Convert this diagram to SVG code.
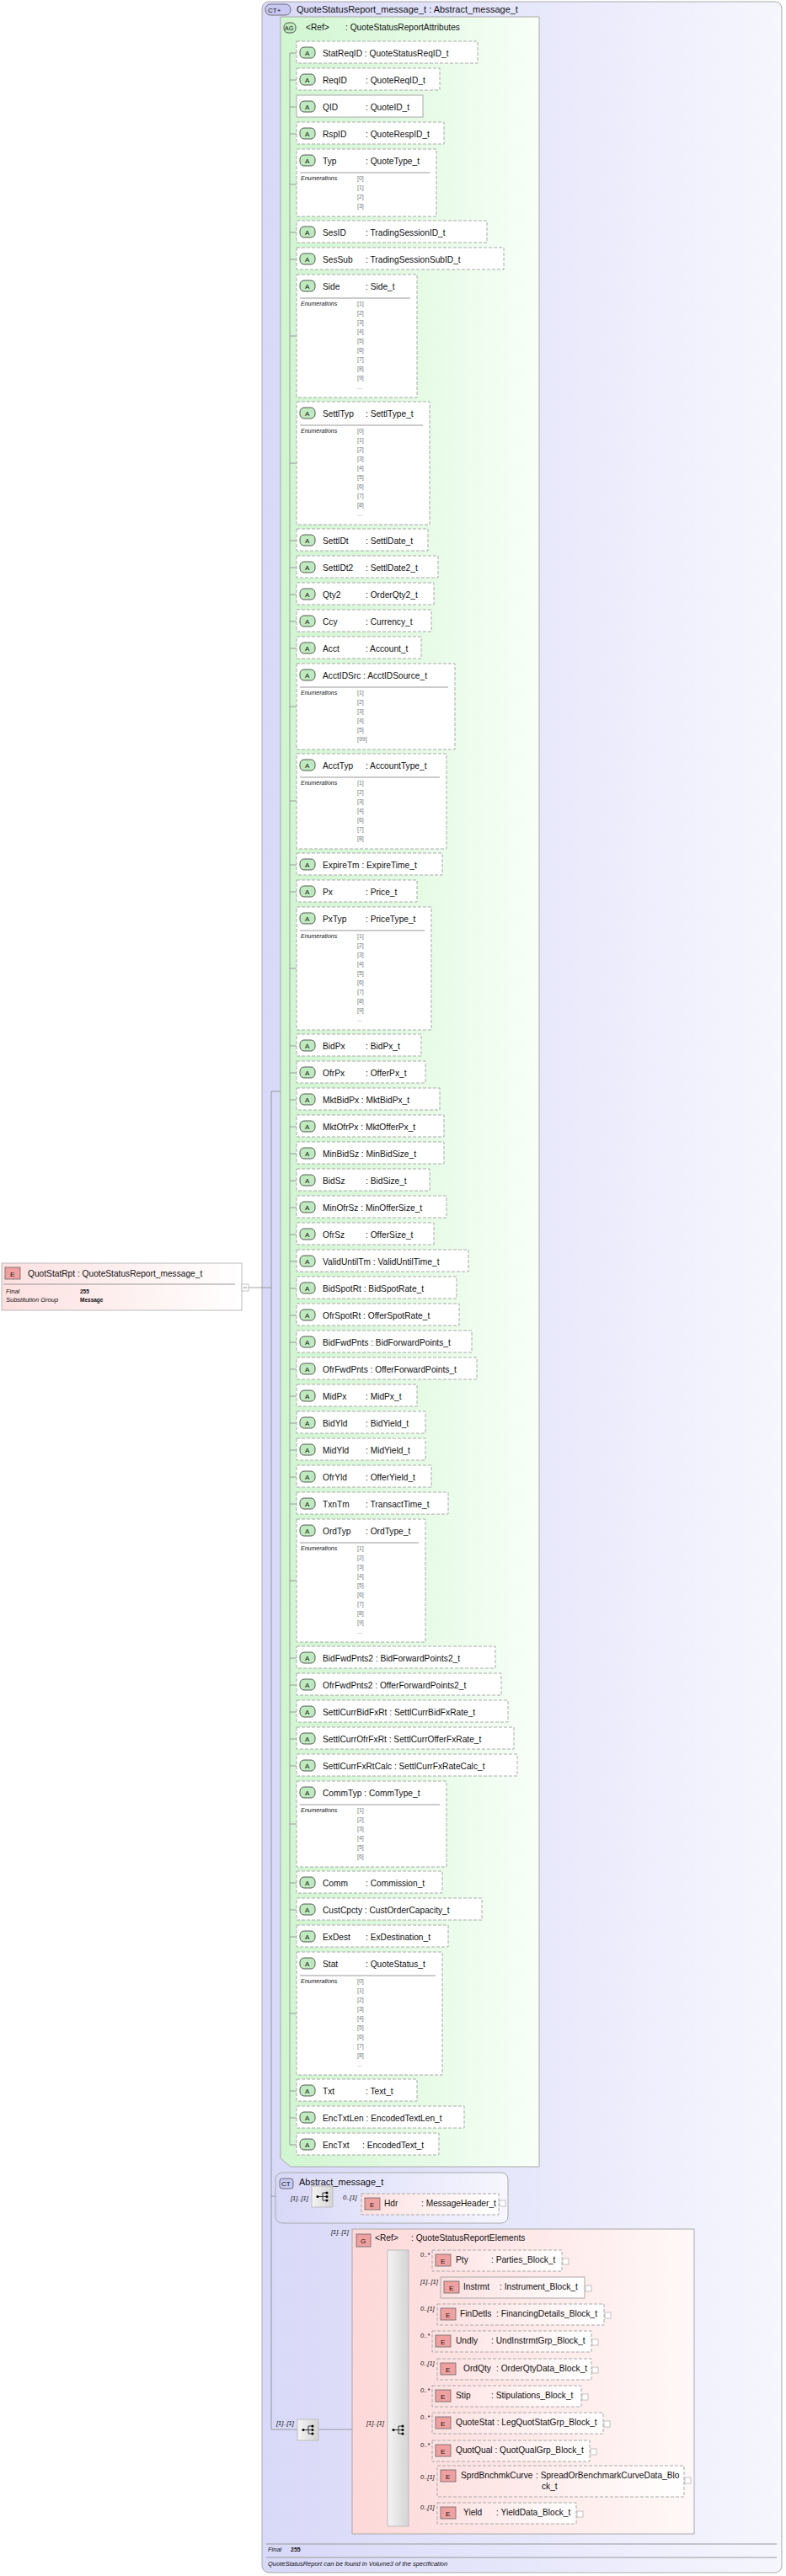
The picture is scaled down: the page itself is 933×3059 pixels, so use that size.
<svg xmlns="http://www.w3.org/2000/svg" width="933" height="3059" viewBox="0 0 933 3059">
<defs>
<linearGradient id="gCT" x1="0" y1="0" x2="1" y2="0"><stop offset="0" stop-color="#d8d8f8"/><stop offset="1" stop-color="#f6f6fe"/></linearGradient>
<linearGradient id="gAG" x1="0" y1="0" x2="1" y2="0"><stop offset="0" stop-color="#d0f5d0"/><stop offset="1" stop-color="#f8fff8"/></linearGradient>
<linearGradient id="gE" x1="0" y1="0" x2="1" y2="0"><stop offset="0" stop-color="#fde0e0"/><stop offset="1" stop-color="#ffffff"/></linearGradient>
<linearGradient id="gG" x1="0" y1="0" x2="1" y2="0"><stop offset="0" stop-color="#fdd8d8"/><stop offset="1" stop-color="#fff8f8"/></linearGradient>
<linearGradient id="gS" x1="0" y1="0" x2="1" y2="0"><stop offset="0" stop-color="#f4f4f4"/><stop offset="1" stop-color="#d4d4d4"/></linearGradient>
</defs>
<style>
text{font-family:"Liberation Sans",Arial,sans-serif;fill:#111}
.n{font-size:10.2px}
.h{font-size:11px}
.en{font-size:7px;font-style:italic}
.ev{font-size:7px;fill:#777}
.m{font-size:7.5px;font-style:italic}
.ab{fill:#fff;stroke:#aaa;stroke-dasharray:4,2}
.abs{fill:#fff;stroke:#aaa}
.at{fill:#bfeabf;stroke:#333;stroke-width:0.8}
.et{fill:#f0a0a0;stroke:#666;stroke-width:0.8}
.eb{fill:url(#gE);stroke:#aaa;stroke-dasharray:4,2}
.ebs{fill:url(#gE);stroke:#aaa}
.c{stroke:#888;fill:none;stroke-width:0.8}
.x{fill:#fff;stroke:#aaa;stroke-width:0.7}
</style>
<g id="ct-main">
<rect x="311" y="2" width="617" height="3053" rx="8" fill="url(#gCT)" stroke="#aaa"/>
<rect x="315" y="5" width="30" height="13" rx="6" fill="#c8c8f0" stroke="#555" stroke-width="0.8"/>
<text x="318" y="15" style="font-size:8px">CT+</text>
<text x="352" y="15" class="h">QuoteStatusReport_message_t : Abstract_message_t</text>
<line x1="316" y1="3021" x2="922" y2="3021" stroke="#999"/>
<text x="318" y="3030" class="m">Final</text><text x="345" y="3030" style="font-size:7px;font-weight:bold">255</text>
<line x1="316" y1="3037" x2="922" y2="3037" stroke="#999"/>
<text x="318" y="3047" class="m">QuoteStatusReport can be found in Volume3 of the specification</text>
</g>
<g id="ag">
<path d="M333,20 H640 V2573 H345 L333,2563 Z" fill="url(#gAG)" stroke="#aaa"/>
<rect x="337" y="27" width="14" height="12" rx="5" fill="#bfeabf" stroke="#333" stroke-width="0.8"/>
<text x="338" y="36" style="font-size:7px">AG</text>
<text x="363" y="36" class="n">&lt;Ref&gt;</text><text x="410" y="36" class="n">: QuoteStatusReportAttributes</text>
</g>
<g id="connectors">
<line class="c" x1="344" y1="63" x2="344" y2="2547"/>
<path class="c" d="M344,63h8M344,95h8M344,127h8M344,159h8M344,219h8M344,276h8M344,308h8M344,399h8M344,550h8M344,642h8M344,674h8M344,706h8M344,738h8M344,770h8M344,839h8M344,951h8M344,1027h8M344,1059h8M344,1150h8M344,1242h8M344,1274h8M344,1306h8M344,1338h8M344,1370h8M344,1402h8M344,1434h8M344,1466h8M344,1498h8M344,1530h8M344,1562h8M344,1594h8M344,1626h8M344,1658h8M344,1690h8M344,1722h8M344,1754h8M344,1786h8M344,1877h8M344,1969h8M344,2001h8M344,2033h8M344,2065h8M344,2097h8M344,2166h8M344,2236h8M344,2268h8M344,2300h8M344,2391h8M344,2483h8M344,2515h8M344,2547h8"/>
<path class="c" d="M295,1529H322M322,1296V2885M322,1296H333M322,2608H370M395,2608H427M322,2885H353M378,2885H460"/>
<path class="c" d="M485,2683H513M485,2715H523M485,2747H519M485,2779H513M485,2812H519M485,2844H513M485,2876H513M485,2909H513M485,2946H519M485,2983H519"/>
</g>
<g id="attrs">
<g id="a-StatReqID"><rect class="ab" x="352" y="49" width="215" height="26"/><rect class="at" x="356" y="56" width="18" height="13" rx="5"/><text x="362" y="66" style="font-size:8px">A</text><text class="n" x="383" y="67">StatReqID : QuoteStatusReqID_t</text></g>
<g id="a-ReqID"><rect class="ab" x="352" y="81" width="170" height="26"/><rect class="at" x="356" y="88" width="18" height="13" rx="5"/><text x="362" y="98" style="font-size:8px">A</text><text class="n" x="383" y="99">ReqID</text><text class="n" x="434" y="99">: QuoteReqID_t</text></g>
<g id="a-QID"><rect class="abs" x="352" y="113" width="150" height="26"/><rect class="at" x="356" y="120" width="18" height="13" rx="5"/><text x="362" y="130" style="font-size:8px">A</text><text class="n" x="383" y="131">QID</text><text class="n" x="434" y="131">: QuoteID_t</text></g>
<g id="a-RspID"><rect class="ab" x="352" y="145" width="175" height="26"/><rect class="at" x="356" y="152" width="18" height="13" rx="5"/><text x="362" y="162" style="font-size:8px">A</text><text class="n" x="383" y="163">RspID</text><text class="n" x="434" y="163">: QuoteRespID_t</text></g>
<g id="a-Typ"><rect class="ab" x="352" y="177" width="166" height="80"/><rect class="at" x="356" y="184" width="18" height="13" rx="5"/><text x="362" y="194" style="font-size:8px">A</text><text class="n" x="383" y="195">Typ</text><text class="n" x="434" y="195">: QuoteType_t</text><line x1="356" y1="205" x2="510" y2="205" stroke="#999"/><text class="en" x="357" y="214">Enumerations</text><text class="ev" x="424" y="214">[0]</text><text class="ev" x="424" y="225">[1]</text><text class="ev" x="424" y="236">[2]</text><text class="ev" x="424" y="247">[3]</text></g>
<g id="a-SesID"><rect class="ab" x="352" y="262" width="226" height="26"/><rect class="at" x="356" y="269" width="18" height="13" rx="5"/><text x="362" y="279" style="font-size:8px">A</text><text class="n" x="383" y="280">SesID</text><text class="n" x="434" y="280">: TradingSessionID_t</text></g>
<g id="a-SesSub"><rect class="ab" x="352" y="294" width="246" height="26"/><rect class="at" x="356" y="301" width="18" height="13" rx="5"/><text x="362" y="311" style="font-size:8px">A</text><text class="n" x="383" y="312">SesSub</text><text class="n" x="434" y="312">: TradingSessionSubID_t</text></g>
<g id="a-Side"><rect class="ab" x="352" y="326" width="143" height="146"/><rect class="at" x="356" y="333" width="18" height="13" rx="5"/><text x="362" y="343" style="font-size:8px">A</text><text class="n" x="383" y="344">Side</text><text class="n" x="434" y="344">: Side_t</text><line x1="356" y1="354" x2="487" y2="354" stroke="#999"/><text class="en" x="357" y="363">Enumerations</text><text class="ev" x="424" y="363">[1]</text><text class="ev" x="424" y="374">[2]</text><text class="ev" x="424" y="385">[3]</text><text class="ev" x="424" y="396">[4]</text><text class="ev" x="424" y="407">[5]</text><text class="ev" x="424" y="418">[6]</text><text class="ev" x="424" y="429">[7]</text><text class="ev" x="424" y="440">[8]</text><text class="ev" x="424" y="451">[9]</text><text class="ev" x="424" y="462">...</text></g>
<g id="a-SettlTyp"><rect class="ab" x="352" y="477" width="158" height="146"/><rect class="at" x="356" y="484" width="18" height="13" rx="5"/><text x="362" y="494" style="font-size:8px">A</text><text class="n" x="383" y="495">SettlTyp</text><text class="n" x="434" y="495">: SettlType_t</text><line x1="356" y1="505" x2="502" y2="505" stroke="#999"/><text class="en" x="357" y="514">Enumerations</text><text class="ev" x="424" y="514">[0]</text><text class="ev" x="424" y="525">[1]</text><text class="ev" x="424" y="536">[2]</text><text class="ev" x="424" y="547">[3]</text><text class="ev" x="424" y="558">[4]</text><text class="ev" x="424" y="569">[5]</text><text class="ev" x="424" y="580">[6]</text><text class="ev" x="424" y="591">[7]</text><text class="ev" x="424" y="602">[8]</text><text class="ev" x="424" y="613">...</text></g>
<g id="a-SettlDt"><rect class="ab" x="352" y="628" width="156" height="26"/><rect class="at" x="356" y="635" width="18" height="13" rx="5"/><text x="362" y="645" style="font-size:8px">A</text><text class="n" x="383" y="646">SettlDt</text><text class="n" x="434" y="646">: SettlDate_t</text></g>
<g id="a-SettlDt2"><rect class="ab" x="352" y="660" width="168" height="26"/><rect class="at" x="356" y="667" width="18" height="13" rx="5"/><text x="362" y="677" style="font-size:8px">A</text><text class="n" x="383" y="678">SettlDt2</text><text class="n" x="434" y="678">: SettlDate2_t</text></g>
<g id="a-Qty2"><rect class="ab" x="352" y="692" width="163" height="26"/><rect class="at" x="356" y="699" width="18" height="13" rx="5"/><text x="362" y="709" style="font-size:8px">A</text><text class="n" x="383" y="710">Qty2</text><text class="n" x="434" y="710">: OrderQty2_t</text></g>
<g id="a-Ccy"><rect class="ab" x="352" y="724" width="160" height="26"/><rect class="at" x="356" y="731" width="18" height="13" rx="5"/><text x="362" y="741" style="font-size:8px">A</text><text class="n" x="383" y="742">Ccy</text><text class="n" x="434" y="742">: Currency_t</text></g>
<g id="a-Acct"><rect class="ab" x="352" y="756" width="148" height="26"/><rect class="at" x="356" y="763" width="18" height="13" rx="5"/><text x="362" y="773" style="font-size:8px">A</text><text class="n" x="383" y="774">Acct</text><text class="n" x="434" y="774">: Account_t</text></g>
<g id="a-AcctIDSrc"><rect class="ab" x="352" y="788" width="188" height="102"/><rect class="at" x="356" y="795" width="18" height="13" rx="5"/><text x="362" y="805" style="font-size:8px">A</text><text class="n" x="383" y="806">AcctIDSrc : AcctIDSource_t</text><line x1="356" y1="816" x2="532" y2="816" stroke="#999"/><text class="en" x="357" y="825">Enumerations</text><text class="ev" x="424" y="825">[1]</text><text class="ev" x="424" y="836">[2]</text><text class="ev" x="424" y="847">[3]</text><text class="ev" x="424" y="858">[4]</text><text class="ev" x="424" y="869">[5]</text><text class="ev" x="424" y="880">[99]</text></g>
<g id="a-AcctTyp"><rect class="ab" x="352" y="895" width="178" height="113"/><rect class="at" x="356" y="902" width="18" height="13" rx="5"/><text x="362" y="912" style="font-size:8px">A</text><text class="n" x="383" y="913">AcctTyp</text><text class="n" x="434" y="913">: AccountType_t</text><line x1="356" y1="923" x2="522" y2="923" stroke="#999"/><text class="en" x="357" y="932">Enumerations</text><text class="ev" x="424" y="932">[1]</text><text class="ev" x="424" y="943">[2]</text><text class="ev" x="424" y="954">[3]</text><text class="ev" x="424" y="965">[4]</text><text class="ev" x="424" y="976">[6]</text><text class="ev" x="424" y="987">[7]</text><text class="ev" x="424" y="998">[8]</text></g>
<g id="a-ExpireTm"><rect class="ab" x="352" y="1013" width="173" height="26"/><rect class="at" x="356" y="1020" width="18" height="13" rx="5"/><text x="362" y="1030" style="font-size:8px">A</text><text class="n" x="383" y="1031">ExpireTm : ExpireTime_t</text></g>
<g id="a-Px"><rect class="ab" x="352" y="1045" width="143" height="26"/><rect class="at" x="356" y="1052" width="18" height="13" rx="5"/><text x="362" y="1062" style="font-size:8px">A</text><text class="n" x="383" y="1063">Px</text><text class="n" x="434" y="1063">: Price_t</text></g>
<g id="a-PxTyp"><rect class="ab" x="352" y="1077" width="160" height="146"/><rect class="at" x="356" y="1084" width="18" height="13" rx="5"/><text x="362" y="1094" style="font-size:8px">A</text><text class="n" x="383" y="1095">PxTyp</text><text class="n" x="434" y="1095">: PriceType_t</text><line x1="356" y1="1105" x2="504" y2="1105" stroke="#999"/><text class="en" x="357" y="1114">Enumerations</text><text class="ev" x="424" y="1114">[1]</text><text class="ev" x="424" y="1125">[2]</text><text class="ev" x="424" y="1136">[3]</text><text class="ev" x="424" y="1147">[4]</text><text class="ev" x="424" y="1158">[5]</text><text class="ev" x="424" y="1169">[6]</text><text class="ev" x="424" y="1180">[7]</text><text class="ev" x="424" y="1191">[8]</text><text class="ev" x="424" y="1202">[9]</text><text class="ev" x="424" y="1213">...</text></g>
<g id="a-BidPx"><rect class="ab" x="352" y="1228" width="148" height="26"/><rect class="at" x="356" y="1235" width="18" height="13" rx="5"/><text x="362" y="1245" style="font-size:8px">A</text><text class="n" x="383" y="1246">BidPx</text><text class="n" x="434" y="1246">: BidPx_t</text></g>
<g id="a-OfrPx"><rect class="ab" x="352" y="1260" width="153" height="26"/><rect class="at" x="356" y="1267" width="18" height="13" rx="5"/><text x="362" y="1277" style="font-size:8px">A</text><text class="n" x="383" y="1278">OfrPx</text><text class="n" x="434" y="1278">: OfferPx_t</text></g>
<g id="a-MktBidPx"><rect class="ab" x="352" y="1292" width="170" height="26"/><rect class="at" x="356" y="1299" width="18" height="13" rx="5"/><text x="362" y="1309" style="font-size:8px">A</text><text class="n" x="383" y="1310">MktBidPx : MktBidPx_t</text></g>
<g id="a-MktOfrPx"><rect class="ab" x="352" y="1324" width="175" height="26"/><rect class="at" x="356" y="1331" width="18" height="13" rx="5"/><text x="362" y="1341" style="font-size:8px">A</text><text class="n" x="383" y="1342">MktOfrPx : MktOfferPx_t</text></g>
<g id="a-MinBidSz"><rect class="ab" x="352" y="1356" width="175" height="26"/><rect class="at" x="356" y="1363" width="18" height="13" rx="5"/><text x="362" y="1373" style="font-size:8px">A</text><text class="n" x="383" y="1374">MinBidSz : MinBidSize_t</text></g>
<g id="a-BidSz"><rect class="ab" x="352" y="1388" width="158" height="26"/><rect class="at" x="356" y="1395" width="18" height="13" rx="5"/><text x="362" y="1405" style="font-size:8px">A</text><text class="n" x="383" y="1406">BidSz</text><text class="n" x="434" y="1406">: BidSize_t</text></g>
<g id="a-MinOfrSz"><rect class="ab" x="352" y="1420" width="178" height="26"/><rect class="at" x="356" y="1427" width="18" height="13" rx="5"/><text x="362" y="1437" style="font-size:8px">A</text><text class="n" x="383" y="1438">MinOfrSz : MinOfferSize_t</text></g>
<g id="a-OfrSz"><rect class="ab" x="352" y="1452" width="163" height="26"/><rect class="at" x="356" y="1459" width="18" height="13" rx="5"/><text x="362" y="1469" style="font-size:8px">A</text><text class="n" x="383" y="1470">OfrSz</text><text class="n" x="434" y="1470">: OfferSize_t</text></g>
<g id="a-ValidUntilTm"><rect class="ab" x="352" y="1484" width="204" height="26"/><rect class="at" x="356" y="1491" width="18" height="13" rx="5"/><text x="362" y="1501" style="font-size:8px">A</text><text class="n" x="383" y="1502">ValidUntilTm : ValidUntilTime_t</text></g>
<g id="a-BidSpotRt"><rect class="ab" x="352" y="1516" width="190" height="26"/><rect class="at" x="356" y="1523" width="18" height="13" rx="5"/><text x="362" y="1533" style="font-size:8px">A</text><text class="n" x="383" y="1534">BidSpotRt : BidSpotRate_t</text></g>
<g id="a-OfrSpotRt"><rect class="ab" x="352" y="1548" width="193" height="26"/><rect class="at" x="356" y="1555" width="18" height="13" rx="5"/><text x="362" y="1565" style="font-size:8px">A</text><text class="n" x="383" y="1566">OfrSpotRt : OfferSpotRate_t</text></g>
<g id="a-BidFwdPnts"><rect class="ab" x="352" y="1580" width="208" height="26"/><rect class="at" x="356" y="1587" width="18" height="13" rx="5"/><text x="362" y="1597" style="font-size:8px">A</text><text class="n" x="383" y="1598">BidFwdPnts : BidForwardPoints_t</text></g>
<g id="a-OfrFwdPnts"><rect class="ab" x="352" y="1612" width="214" height="26"/><rect class="at" x="356" y="1619" width="18" height="13" rx="5"/><text x="362" y="1629" style="font-size:8px">A</text><text class="n" x="383" y="1630">OfrFwdPnts : OfferForwardPoints_t</text></g>
<g id="a-MidPx"><rect class="ab" x="352" y="1644" width="143" height="26"/><rect class="at" x="356" y="1651" width="18" height="13" rx="5"/><text x="362" y="1661" style="font-size:8px">A</text><text class="n" x="383" y="1662">MidPx</text><text class="n" x="434" y="1662">: MidPx_t</text></g>
<g id="a-BidYld"><rect class="ab" x="352" y="1676" width="153" height="26"/><rect class="at" x="356" y="1683" width="18" height="13" rx="5"/><text x="362" y="1693" style="font-size:8px">A</text><text class="n" x="383" y="1694">BidYld</text><text class="n" x="434" y="1694">: BidYield_t</text></g>
<g id="a-MidYld"><rect class="ab" x="352" y="1708" width="153" height="26"/><rect class="at" x="356" y="1715" width="18" height="13" rx="5"/><text x="362" y="1725" style="font-size:8px">A</text><text class="n" x="383" y="1726">MidYld</text><text class="n" x="434" y="1726">: MidYield_t</text></g>
<g id="a-OfrYld"><rect class="ab" x="352" y="1740" width="160" height="26"/><rect class="at" x="356" y="1747" width="18" height="13" rx="5"/><text x="362" y="1757" style="font-size:8px">A</text><text class="n" x="383" y="1758">OfrYld</text><text class="n" x="434" y="1758">: OfferYield_t</text></g>
<g id="a-TxnTm"><rect class="ab" x="352" y="1772" width="180" height="26"/><rect class="at" x="356" y="1779" width="18" height="13" rx="5"/><text x="362" y="1789" style="font-size:8px">A</text><text class="n" x="383" y="1790">TxnTm</text><text class="n" x="434" y="1790">: TransactTime_t</text></g>
<g id="a-OrdTyp"><rect class="ab" x="352" y="1804" width="153" height="146"/><rect class="at" x="356" y="1811" width="18" height="13" rx="5"/><text x="362" y="1821" style="font-size:8px">A</text><text class="n" x="383" y="1822">OrdTyp</text><text class="n" x="434" y="1822">: OrdType_t</text><line x1="356" y1="1832" x2="497" y2="1832" stroke="#999"/><text class="en" x="357" y="1841">Enumerations</text><text class="ev" x="424" y="1841">[1]</text><text class="ev" x="424" y="1852">[2]</text><text class="ev" x="424" y="1863">[3]</text><text class="ev" x="424" y="1874">[4]</text><text class="ev" x="424" y="1885">[5]</text><text class="ev" x="424" y="1896">[6]</text><text class="ev" x="424" y="1907">[7]</text><text class="ev" x="424" y="1918">[8]</text><text class="ev" x="424" y="1929">[9]</text><text class="ev" x="424" y="1940">...</text></g>
<g id="a-BidFwdPnts2"><rect class="ab" x="352" y="1955" width="236" height="26"/><rect class="at" x="356" y="1962" width="18" height="13" rx="5"/><text x="362" y="1972" style="font-size:8px">A</text><text class="n" x="383" y="1973">BidFwdPnts2 : BidForwardPoints2_t</text></g>
<g id="a-OfrFwdPnts2"><rect class="ab" x="352" y="1987" width="243" height="26"/><rect class="at" x="356" y="1994" width="18" height="13" rx="5"/><text x="362" y="2004" style="font-size:8px">A</text><text class="n" x="383" y="2005">OfrFwdPnts2 : OfferForwardPoints2_t</text></g>
<g id="a-SettlCurrBidFxRt"><rect class="ab" x="352" y="2019" width="251" height="26"/><rect class="at" x="356" y="2026" width="18" height="13" rx="5"/><text x="362" y="2036" style="font-size:8px">A</text><text class="n" x="383" y="2037">SettlCurrBidFxRt : SettlCurrBidFxRate_t</text></g>
<g id="a-SettlCurrOfrFxRt"><rect class="ab" x="352" y="2051" width="258" height="26"/><rect class="at" x="356" y="2058" width="18" height="13" rx="5"/><text x="362" y="2068" style="font-size:8px">A</text><text class="n" x="383" y="2069">SettlCurrOfrFxRt : SettlCurrOfferFxRate_t</text></g>
<g id="a-SettlCurrFxRtCalc"><rect class="ab" x="352" y="2083" width="262" height="26"/><rect class="at" x="356" y="2090" width="18" height="13" rx="5"/><text x="362" y="2100" style="font-size:8px">A</text><text class="n" x="383" y="2101">SettlCurrFxRtCalc : SettlCurrFxRateCalc_t</text></g>
<g id="a-CommTyp"><rect class="ab" x="352" y="2115" width="178" height="102"/><rect class="at" x="356" y="2122" width="18" height="13" rx="5"/><text x="362" y="2132" style="font-size:8px">A</text><text class="n" x="383" y="2133">CommTyp : CommType_t</text><line x1="356" y1="2143" x2="522" y2="2143" stroke="#999"/><text class="en" x="357" y="2152">Enumerations</text><text class="ev" x="424" y="2152">[1]</text><text class="ev" x="424" y="2163">[2]</text><text class="ev" x="424" y="2174">[3]</text><text class="ev" x="424" y="2185">[4]</text><text class="ev" x="424" y="2196">[5]</text><text class="ev" x="424" y="2207">[6]</text></g>
<g id="a-Comm"><rect class="ab" x="352" y="2222" width="173" height="26"/><rect class="at" x="356" y="2229" width="18" height="13" rx="5"/><text x="362" y="2239" style="font-size:8px">A</text><text class="n" x="383" y="2240">Comm</text><text class="n" x="434" y="2240">: Commission_t</text></g>
<g id="a-CustCpcty"><rect class="ab" x="352" y="2254" width="220" height="26"/><rect class="at" x="356" y="2261" width="18" height="13" rx="5"/><text x="362" y="2271" style="font-size:8px">A</text><text class="n" x="383" y="2272">CustCpcty : CustOrderCapacity_t</text></g>
<g id="a-ExDest"><rect class="ab" x="352" y="2286" width="180" height="26"/><rect class="at" x="356" y="2293" width="18" height="13" rx="5"/><text x="362" y="2303" style="font-size:8px">A</text><text class="n" x="383" y="2304">ExDest</text><text class="n" x="434" y="2304">: ExDestination_t</text></g>
<g id="a-Stat"><rect class="ab" x="352" y="2318" width="173" height="146"/><rect class="at" x="356" y="2325" width="18" height="13" rx="5"/><text x="362" y="2335" style="font-size:8px">A</text><text class="n" x="383" y="2336">Stat</text><text class="n" x="434" y="2336">: QuoteStatus_t</text><line x1="356" y1="2346" x2="517" y2="2346" stroke="#999"/><text class="en" x="357" y="2355">Enumerations</text><text class="ev" x="424" y="2355">[0]</text><text class="ev" x="424" y="2366">[1]</text><text class="ev" x="424" y="2377">[2]</text><text class="ev" x="424" y="2388">[3]</text><text class="ev" x="424" y="2399">[4]</text><text class="ev" x="424" y="2410">[5]</text><text class="ev" x="424" y="2421">[6]</text><text class="ev" x="424" y="2432">[7]</text><text class="ev" x="424" y="2443">[8]</text><text class="ev" x="424" y="2454">...</text></g>
<g id="a-Txt"><rect class="ab" x="352" y="2469" width="143" height="26"/><rect class="at" x="356" y="2476" width="18" height="13" rx="5"/><text x="362" y="2486" style="font-size:8px">A</text><text class="n" x="383" y="2487">Txt</text><text class="n" x="434" y="2487">: Text_t</text></g>
<g id="a-EncTxtLen"><rect class="ab" x="352" y="2501" width="199" height="26"/><rect class="at" x="356" y="2508" width="18" height="13" rx="5"/><text x="362" y="2518" style="font-size:8px">A</text><text class="n" x="383" y="2519">EncTxtLen : EncodedTextLen_t</text></g>
<g id="a-EncTxt"><rect class="ab" x="352" y="2533" width="169" height="26"/><rect class="at" x="356" y="2540" width="18" height="13" rx="5"/><text x="362" y="2550" style="font-size:8px">A</text><text class="n" x="383" y="2551">EncTxt</text><text class="n" x="430" y="2551">: EncodedText_t</text></g>
</g>
<g id="root">
<rect x="2" y="1500" width="285" height="56" fill="url(#gE)" stroke="#bbb"/>
<rect class="et" x="6" y="1505" width="18" height="14"/><text x="12" y="1516" style="font-size:8px">E</text>
<text class="n" x="33" y="1516">QuotStatRpt : QuoteStatusReport_message_t</text>
<line x1="4" y1="1525" x2="279" y2="1525" stroke="#999"/>
<text class="m" x="7" y="1536">Final</text><text x="95" y="1536" style="font-size:6.5px;font-weight:bold">255</text>
<text class="m" x="7" y="1546">Substitution Group</text><text x="95" y="1546" style="font-size:6.5px;font-weight:bold">Message</text>
<rect class="x" x="287" y="1525" width="8" height="8"/><line x1="289" y1="1529" x2="293" y2="1529" stroke="#888"/>
</g>
<g id="abstract">
<rect x="327" y="2580" width="276" height="60" rx="8" fill="url(#gCT)" stroke="#aaa"/>
<rect x="332" y="2587" width="16" height="12" rx="3" fill="#c8c8f0" stroke="#555" stroke-width="0.8"/><text x="334" y="2596" style="font-size:8px">CT</text>
<text class="h" x="355" y="2595">Abstract_message_t</text>
<text class="m" x="345" y="2613">[1]..[1]</text>
<rect x="370" y="2596" width="25" height="25" fill="url(#gS)" stroke="#bbb"/>
<path d="M377,2608.5h6M383,2604v9M383,2604h4M383,2608.5h4M383,2613h4" stroke="#333" fill="none"/><circle cx="377" cy="2608.5" r="1.5"/><circle cx="388" cy="2604" r="1.5"/><circle cx="388" cy="2608.5" r="1.5"/><circle cx="388" cy="2613" r="1.5"/>
<text class="m" x="407" y="2612">0..[1]</text>
<g id="e-Hdr"><rect class="eb" x="429" y="2605" width="163" height="25"/><rect class="et" x="433" y="2610" width="18" height="14"/><text x="439" y="2621" style="font-size:8px">E</text><text class="n" x="456" y="2620">Hdr</text><text class="n" x="500" y="2620">: MessageHeader_t</text><rect class="x" x="593" y="2613" width="7" height="7"/></g>
</g>
<g id="seq-outer">
<text class="m" x="328" y="2880">[1]..[1]</text>
<rect x="353" y="2873" width="25" height="25" fill="url(#gS)" stroke="#bbb"/>
<path d="M360,2885.5h6M366,2881v9M366,2881h4M366,2885.5h4M366,2890h4" stroke="#333" fill="none"/><circle cx="360" cy="2885.5" r="1.5"/><circle cx="371" cy="2881" r="1.5"/><circle cx="371" cy="2885.5" r="1.5"/><circle cx="371" cy="2890" r="1.5"/>
</g>
<g id="group">
<text class="m" x="393" y="2653">[1]..[1]</text>
<rect x="418" y="2647" width="406" height="362" fill="url(#gG)" stroke="#aaa"/>
<rect class="et" x="423" y="2653" width="17" height="15"/><text x="428" y="2664" style="font-size:8px">G</text>
<text class="n" x="445" y="2661">&lt;Ref&gt;</text><text class="n" x="488" y="2661">: QuoteStatusReportElements</text>
<text class="m" x="435" y="2880">[1]..[1]</text>
<rect x="460" y="2672" width="25" height="328" fill="url(#gS)" stroke="#bbb"/>
<path d="M467,2885.5h6M473,2881v9M473,2881h4M473,2885.5h4M473,2890h4" stroke="#333" fill="none"/><circle cx="467" cy="2885.5" r="1.5"/><circle cx="478" cy="2881" r="1.5"/><circle cx="478" cy="2885.5" r="1.5"/><circle cx="478" cy="2890" r="1.5"/>
<text class="m" x="499" y="2680">0..*</text>
<g id="e-Pty"><rect class="eb" x="513" y="2672" width="154" height="25"/><rect class="et" x="517" y="2677" width="18" height="14"/><text x="523" y="2688" style="font-size:8px">E</text><text class="n" x="541" y="2687">Pty</text><text class="n" x="583" y="2687">: Parties_Block_t</text><rect class="x" x="668" y="2682" width="7" height="7"/></g>
<text class="m" x="499" y="2712">[1]..[1]</text>
<g id="e-Instrmt"><rect class="ebs" x="523" y="2704" width="171" height="25"/><rect class="et" x="527" y="2709" width="18" height="14"/><text x="533" y="2720" style="font-size:8px">E</text><text class="n" x="550" y="2719">Instrmt</text><text class="n" x="593" y="2719">: Instrument_Block_t</text><rect class="x" x="695" y="2714" width="7" height="7"/></g>
<text class="m" x="499" y="2744">0..[1]</text>
<g id="e-FinDetls"><rect class="eb" x="519" y="2736" width="198" height="25"/><rect class="et" x="523" y="2741" width="18" height="14"/><text x="529" y="2752" style="font-size:8px">E</text><text class="n" x="546" y="2751">FinDetls</text><text class="n" x="589" y="2751">: FinancingDetails_Block_t</text><rect class="x" x="718" y="2746" width="7" height="7"/></g>
<text class="m" x="499" y="2776">0..*</text>
<g id="e-Undly"><rect class="eb" x="513" y="2768" width="189" height="25"/><rect class="et" x="517" y="2773" width="18" height="14"/><text x="523" y="2784" style="font-size:8px">E</text><text class="n" x="541" y="2783">Undly</text><text class="n" x="583" y="2783">: UndInstrmtGrp_Block_t</text><rect class="x" x="703" y="2778" width="7" height="7"/></g>
<text class="m" x="499" y="2809">0..[1]</text>
<g id="e-OrdQty"><rect class="eb" x="519" y="2801" width="183" height="25"/><rect class="et" x="523" y="2806" width="18" height="14"/><text x="529" y="2817" style="font-size:8px">E</text><text class="n" x="550" y="2816">OrdQty</text><text class="n" x="589" y="2816">: OrderQtyData_Block_t</text><rect class="x" x="703" y="2811" width="7" height="7"/></g>
<text class="m" x="499" y="2841">0..*</text>
<g id="e-Stip"><rect class="eb" x="513" y="2833" width="177" height="25"/><rect class="et" x="517" y="2838" width="18" height="14"/><text x="523" y="2849" style="font-size:8px">E</text><text class="n" x="541" y="2848">Stip</text><text class="n" x="583" y="2848">: Stipulations_Block_t</text><rect class="x" x="691" y="2843" width="7" height="7"/></g>
<text class="m" x="499" y="2873">0..*</text>
<g id="e-QuoteStat"><rect class="eb" x="513" y="2865" width="203" height="25"/><rect class="et" x="517" y="2870" width="18" height="14"/><text x="523" y="2881" style="font-size:8px">E</text><text class="n" x="541" y="2880">QuoteStat : LegQuotStatGrp_Block_t</text><rect class="x" x="717" y="2875" width="7" height="7"/></g>
<text class="m" x="499" y="2906">0..*</text>
<g id="e-QuotQual"><rect class="eb" x="513" y="2898" width="187" height="25"/><rect class="et" x="517" y="2903" width="18" height="14"/><text x="523" y="2914" style="font-size:8px">E</text><text class="n" x="541" y="2913">QuotQual : QuotQualGrp_Block_t</text><rect class="x" x="701" y="2908" width="7" height="7"/></g>
<text class="m" x="499" y="2944">0..[1]</text>
<g id="e-SprdBnchmkCurve"><rect class="eb" x="519" y="2928" width="293" height="37"/><rect class="et" x="523" y="2933" width="18" height="14"/><text x="529" y="2944" style="font-size:8px">E</text><text class="n" x="547" y="2943">SprdBnchmkCurve</text><text class="n" x="636" y="2943">: SpreadOrBenchmarkCurveData_Blo</text><text class="n" x="643" y="2956">ck_t</text><rect class="x" x="813" y="2942" width="7" height="7"/></g>
<text class="m" x="499" y="2980">0..[1]</text>
<g id="e-Yield"><rect class="eb" x="519" y="2972" width="165" height="25"/><rect class="et" x="523" y="2977" width="18" height="14"/><text x="529" y="2988" style="font-size:8px">E</text><text class="n" x="550" y="2987">Yield</text><text class="n" x="589" y="2987">: YieldData_Block_t</text><rect class="x" x="685" y="2982" width="7" height="7"/></g>
</g>
</svg>
